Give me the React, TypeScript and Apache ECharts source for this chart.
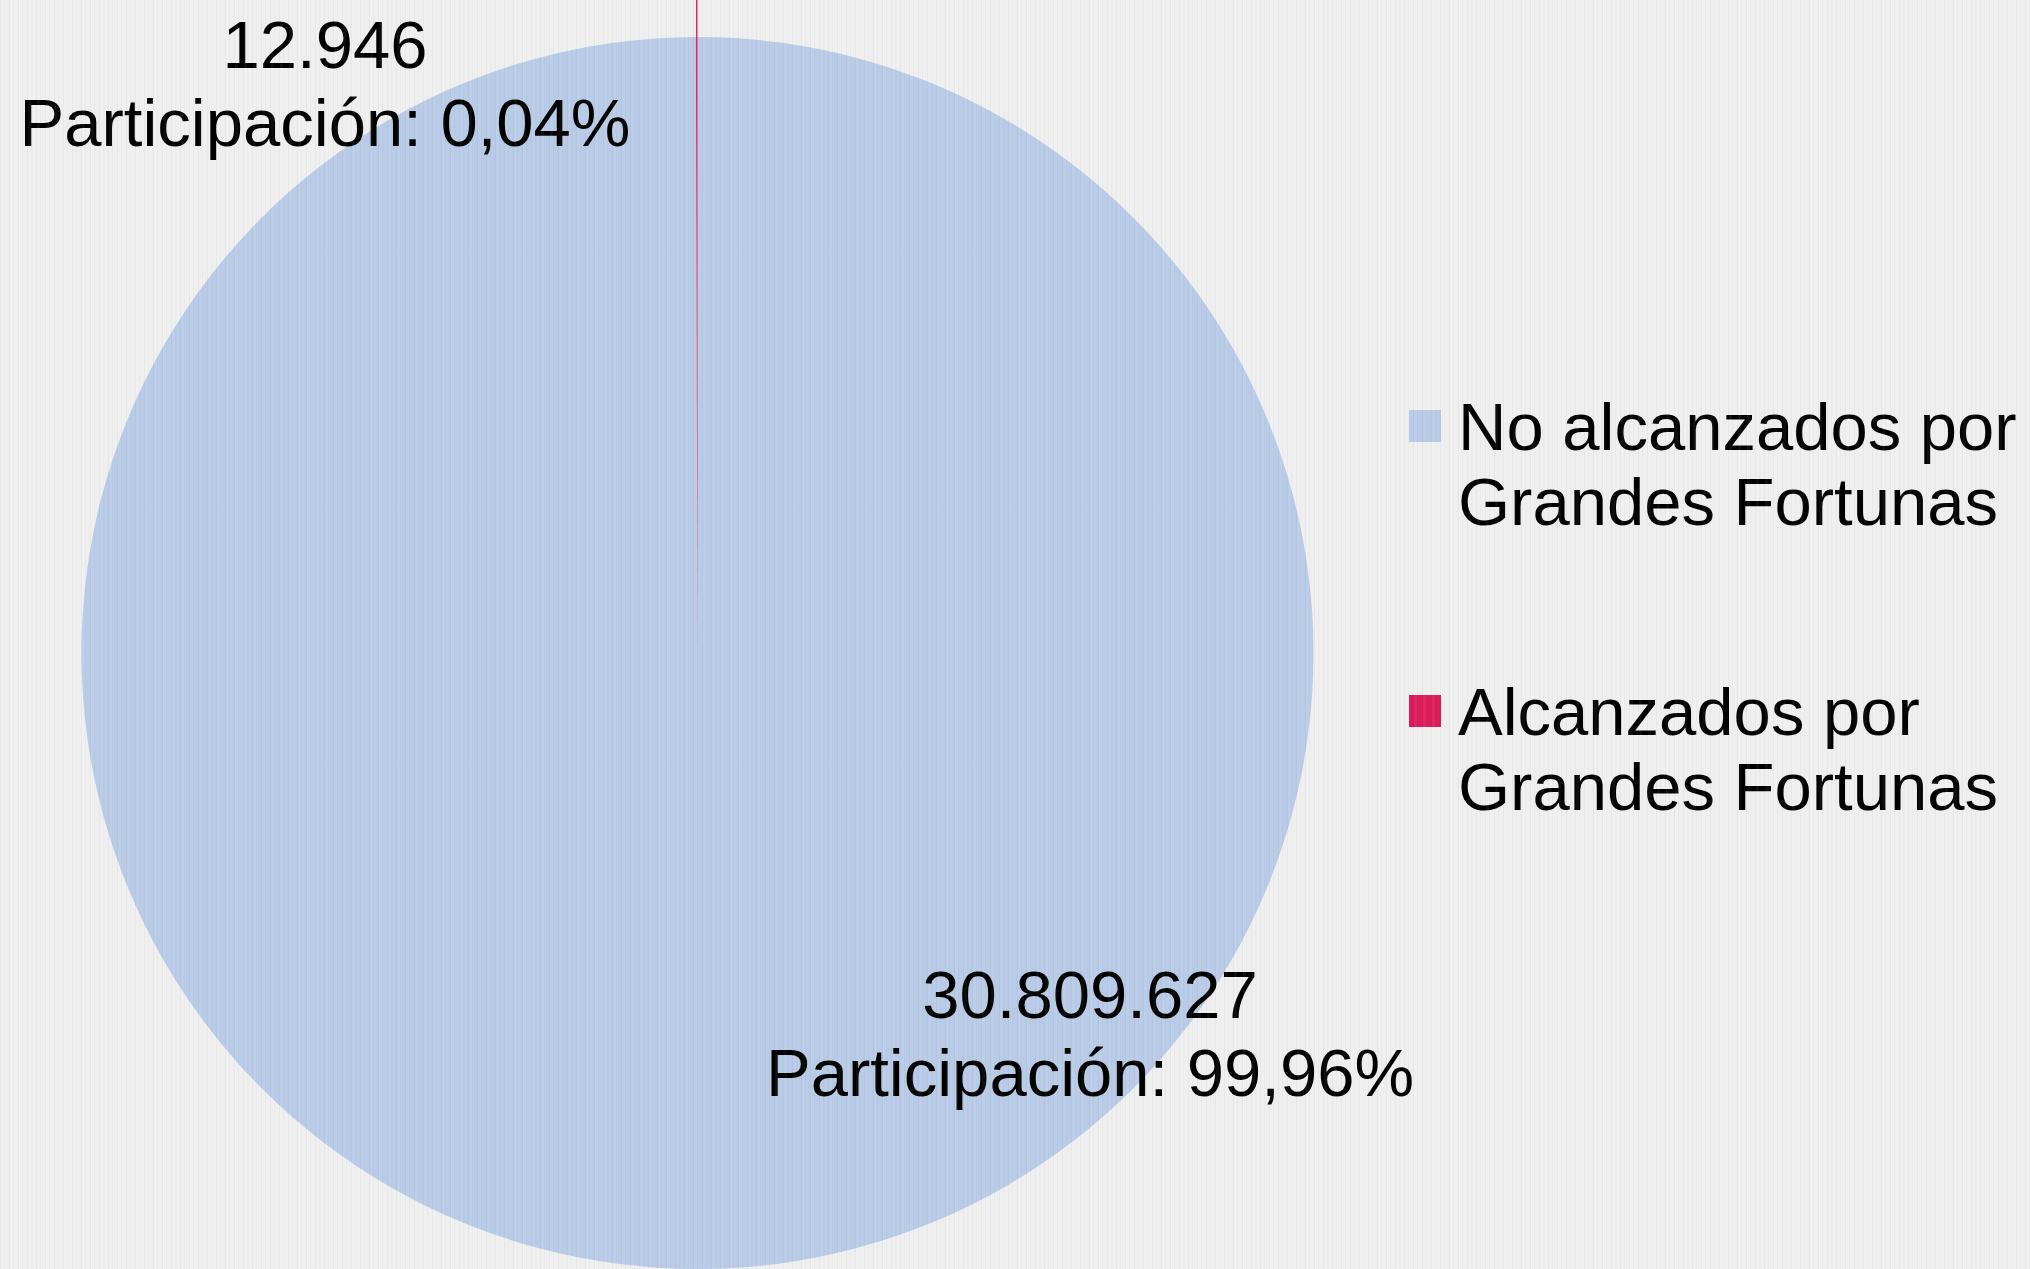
import React, { useEffect, useRef } from "react";
import * as echarts from "echarts";

const categories = [
  "No alcanzados por\nGrandes Fortunas",
  "Alcanzados por\nGrandes Fortunas",
];
const values = [30809627, 12946];
const colors = ["#b9cbe7", "#dc1c5a"];

const FONT = "'Liberation Sans', Arial, Helvetica, sans-serif";

function fmtThousands(v: number): string {
  return String(Math.round(v)).replace(/\B(?=(\d{3})+(?!\d))/g, ".");
}

export default function App() {
  const ref = useRef<HTMLDivElement>(null);

  useEffect(() => {
    if (!ref.current) return;
    const chart = echarts.init(ref.current, undefined, { renderer: "svg" });
    const total = values.reduce((a, b) => a + b, 0);
    const cx = 697.5;
    const cy = 653;
    const r = 616;

    chart.setOption({
      animation: false,
      backgroundColor: "transparent",
      legend: {
        orient: "vertical",
        left: 1409,
        top: 313.5,
        padding: 0,
        itemGap: 60,
        itemWidth: 32,
        itemHeight: 32,
        icon: "rect",
        selectedMode: false,
        data: categories,
        formatter: (name: string) => "\n" + name,
        textStyle: {
          fontFamily: FONT,
          fontSize: 67,
          lineHeight: 75,
          color: "#000000",
          padding: [0, 0, 0, 12],
        },
      },
      series: [
        {
          type: "pie",
          center: [cx, cy],
          radius: r,
          startAngle: 90,
          clockwise: true,
          avoidLabelOverlap: false,
          silent: true,
          emphasis: { disabled: true },
          itemStyle: { borderWidth: 0 },
          label: {
            show: true,
            position: "outside",
            fontFamily: FONT,
            fontSize: 67,
            lineHeight: 78,
            color: "#000000",
            formatter: (p: any) => {
              const pct = ((p.value / total) * 100).toFixed(2).replace(".", ",");
              return fmtThousands(p.value) + "\nParticipación: " + pct + "%";
            },
          },
          labelLine: { show: true, lineStyle: { width: 1.5 } },
          labelLayout: (params: any) => {
            if (params.dataIndex === 0) {
              return { x: 1090, y: 1033, align: "center", verticalAlign: "middle" };
            }
            return {
              x: 325,
              y: 83,
              align: "center",
              verticalAlign: "middle",
              labelLinePoints: [
                [cx - 0.8, cy - r],
                [cx - 0.8, 0],
              ],
            };
          },
          data: categories.map((name, i) => ({
            name,
            value: values[i],
            itemStyle: { color: colors[i] },
            labelLine: { show: i === 1, lineStyle: { color: colors[i], width: 1.5 } },
          })),
        },
      ],
    });

    return () => {
      chart.dispose();
    };
  }, []);

  return (
    <div
      style={{
        position: "fixed",
        left: 0,
        top: 0,
        width: 2030,
        height: 1269,
        background: "#efefef",
        overflow: "hidden",
      }}
    >
      <div ref={ref} style={{ position: "absolute", left: 0, top: 0, width: 2030, height: 1269 }} />
      <div
        style={{
          position: "absolute",
          left: 0,
          top: 0,
          width: 2030,
          height: 1269,
          pointerEvents: "none",
          backgroundImage:
            "repeating-linear-gradient(90deg, rgba(0,0,0,0.035) 0px, rgba(0,0,0,0.035) 1px, rgba(255,255,255,0.05) 1px, rgba(255,255,255,0.05) 4px, rgba(0,0,0,0.02) 4px, rgba(0,0,0,0.02) 5px, rgba(255,255,255,0) 5px, rgba(255,255,255,0) 9px)",
        }}
      />
    </div>
  );
}
